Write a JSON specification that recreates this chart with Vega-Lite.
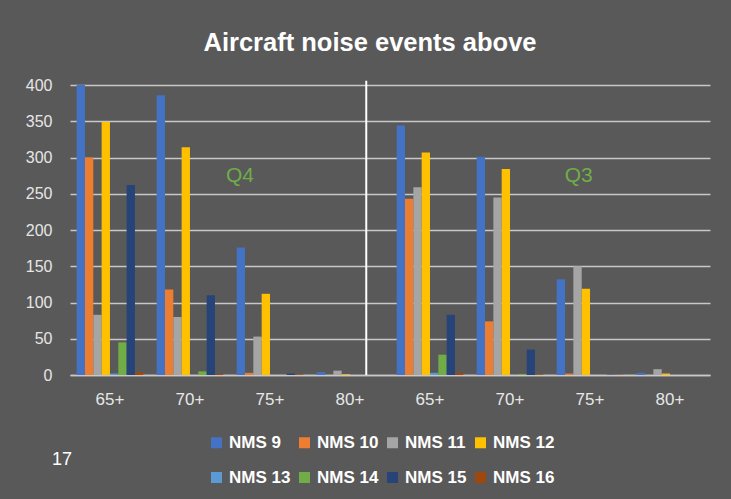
{
  "$schema": "https://vega.github.io/schema/vega-lite/v6.json",
  "autosize": {"type": "none"},
  "width": 640,
  "height": 290,
  "padding": {"left": 70, "top": 85, "right": 21, "bottom": 124},
  "background": "#595959",
  "config": {
    "view": {"stroke": null},
    "font": "Liberation Sans",
    "axisY": {"tickCount": 8, "labelOverlap": false}
  },
  "title": {
    "text": "Aircraft noise events above",
    "color": "#ffffff",
    "fontSize": 25.5,
    "fontWeight": "bold",
    "font": "Liberation Sans",
    "anchor": "middle",
    "dx": -20,
    "offset": 21
  },
  "datasets": {
    "bars": [
      {"cat": "Q4|65+", "s": "NMS 9", "v": 400}, {"cat": "Q4|65+", "s": "NMS 10", "v": 300}, {"cat": "Q4|65+", "s": "NMS 11", "v": 83}, {"cat": "Q4|65+", "s": "NMS 12", "v": 349},
      {"cat": "Q4|65+", "s": "NMS 13", "v": 2}, {"cat": "Q4|65+", "s": "NMS 14", "v": 45}, {"cat": "Q4|65+", "s": "NMS 15", "v": 262}, {"cat": "Q4|65+", "s": "NMS 16", "v": 4},
      {"cat": "Q4|70+", "s": "NMS 9", "v": 386}, {"cat": "Q4|70+", "s": "NMS 10", "v": 118}, {"cat": "Q4|70+", "s": "NMS 11", "v": 80}, {"cat": "Q4|70+", "s": "NMS 12", "v": 314},
      {"cat": "Q4|70+", "s": "NMS 13", "v": 0}, {"cat": "Q4|70+", "s": "NMS 14", "v": 5}, {"cat": "Q4|70+", "s": "NMS 15", "v": 110}, {"cat": "Q4|70+", "s": "NMS 16", "v": 1.5},
      {"cat": "Q4|75+", "s": "NMS 9", "v": 176}, {"cat": "Q4|75+", "s": "NMS 10", "v": 3}, {"cat": "Q4|75+", "s": "NMS 11", "v": 53}, {"cat": "Q4|75+", "s": "NMS 12", "v": 112},
      {"cat": "Q4|75+", "s": "NMS 13", "v": 0}, {"cat": "Q4|75+", "s": "NMS 14", "v": 0}, {"cat": "Q4|75+", "s": "NMS 15", "v": 2}, {"cat": "Q4|75+", "s": "NMS 16", "v": 1},
      {"cat": "Q4|80+", "s": "NMS 9", "v": 4}, {"cat": "Q4|80+", "s": "NMS 10", "v": 0}, {"cat": "Q4|80+", "s": "NMS 11", "v": 6}, {"cat": "Q4|80+", "s": "NMS 12", "v": 1},
      {"cat": "Q4|80+", "s": "NMS 13", "v": 0}, {"cat": "Q4|80+", "s": "NMS 14", "v": 0}, {"cat": "Q4|80+", "s": "NMS 15", "v": 0}, {"cat": "Q4|80+", "s": "NMS 16", "v": 0},
      {"cat": "Q3|65+", "s": "NMS 9", "v": 344}, {"cat": "Q3|65+", "s": "NMS 10", "v": 243}, {"cat": "Q3|65+", "s": "NMS 11", "v": 259}, {"cat": "Q3|65+", "s": "NMS 12", "v": 307},
      {"cat": "Q3|65+", "s": "NMS 13", "v": 3}, {"cat": "Q3|65+", "s": "NMS 14", "v": 28}, {"cat": "Q3|65+", "s": "NMS 15", "v": 83}, {"cat": "Q3|65+", "s": "NMS 16", "v": 3},
      {"cat": "Q3|70+", "s": "NMS 9", "v": 301}, {"cat": "Q3|70+", "s": "NMS 10", "v": 74}, {"cat": "Q3|70+", "s": "NMS 11", "v": 245}, {"cat": "Q3|70+", "s": "NMS 12", "v": 284},
      {"cat": "Q3|70+", "s": "NMS 13", "v": 0}, {"cat": "Q3|70+", "s": "NMS 14", "v": 1.5}, {"cat": "Q3|70+", "s": "NMS 15", "v": 35}, {"cat": "Q3|70+", "s": "NMS 16", "v": 1},
      {"cat": "Q3|75+", "s": "NMS 9", "v": 132}, {"cat": "Q3|75+", "s": "NMS 10", "v": 2}, {"cat": "Q3|75+", "s": "NMS 11", "v": 150}, {"cat": "Q3|75+", "s": "NMS 12", "v": 119},
      {"cat": "Q3|75+", "s": "NMS 13", "v": 0}, {"cat": "Q3|75+", "s": "NMS 14", "v": 0}, {"cat": "Q3|75+", "s": "NMS 15", "v": 0.5}, {"cat": "Q3|75+", "s": "NMS 16", "v": 0.5},
      {"cat": "Q3|80+", "s": "NMS 9", "v": 3}, {"cat": "Q3|80+", "s": "NMS 10", "v": 0}, {"cat": "Q3|80+", "s": "NMS 11", "v": 8}, {"cat": "Q3|80+", "s": "NMS 12", "v": 2},
      {"cat": "Q3|80+", "s": "NMS 13", "v": 0}, {"cat": "Q3|80+", "s": "NMS 14", "v": 0}, {"cat": "Q3|80+", "s": "NMS 15", "v": 0}, {"cat": "Q3|80+", "s": "NMS 16", "v": 0}
    ],
    "sep": [{"cat": "Q4|80+", "y1": 406, "y2": 0}],
    "q4": [{"cat": "Q4|75+", "label": "Q4", "v": 275}],
    "q3": [{"cat": "Q3|75+", "label": "Q3", "v": 275}]
  },
  "encoding": {
    "x": {
      "field": "cat", "type": "nominal", "sort": null,
      "scale": {
        "domain": ["Q4|65+", "Q4|70+", "Q4|75+", "Q4|80+", "Q3|65+", "Q3|70+", "Q3|75+", "Q3|80+"],
        "paddingInner": 0.167, "paddingOuter": 0.083
      },
      "axis": {
        "title": null,
        "labelExpr": "split(datum.label, '|')[1]",
        "labelAngle": 0,
        "labelFontSize": 17,
        "labelColor": "#e6e6e6",
        "labelPadding": 16,
        "ticks": false,
        "domain": true,
        "domainColor": "#c8c8c8",
        "domainWidth": 1.5,
        "grid": false
      }
    },
    "y": {
      "field": "v", "type": "quantitative",
      "scale": {"domain": [0, 400], "nice": false},
      "axis": {
        "title": null,
        "tickMinStep": 50,
        "tickCount": 8,
        "labelOverlap": false,
        "labelFontSize": 16,
        "labelColor": "#e6e6e6",
        "labelPadding": 18,
        "ticks": false,
        "domain": false,
        "grid": true,
        "gridColor": "#c8c8c8",
        "gridWidth": 1.5
      }
    }
  },
  "layer": [
    {
      "data": {"name": "bars"},
      "mark": {"type": "bar", "strokeWidth": 0},
      "encoding": {
        "xOffset": {
          "field": "s", "type": "nominal",
          "sort": ["NMS 9", "NMS 10", "NMS 11", "NMS 12", "NMS 13", "NMS 14", "NMS 15", "NMS 16"],
          "scale": {"paddingInner": 0, "paddingOuter": 0}
        },
        "color": {
          "field": "s", "type": "nominal",
          "sort": ["NMS 9", "NMS 10", "NMS 11", "NMS 12", "NMS 13", "NMS 14", "NMS 15", "NMS 16"],
          "scale": {
            "domain": ["NMS 9", "NMS 10", "NMS 11", "NMS 12", "NMS 13", "NMS 14", "NMS 15", "NMS 16"],
            "range": ["#4472C4", "#ED7D31", "#A5A5A5", "#FFC000", "#5B9BD5", "#70AD47", "#264478", "#9E480E"]
          },
          "legend": {
            "title": "17",
            "titleOrient": "left",
            "titleAngle": 0,
            "titleColor": "#ffffff",
            "titleFontSize": 18,
            "titleFontWeight": "normal",
            "titlePadding": 135,
            "titleBaseline": "middle",
            "titleAnchor": "middle",
            "orient": "none",
            "legendX": -18,
            "legendY": 349,
            "direction": "horizontal",
            "columns": 4,
            "gridAlign": "all",
            "columnPadding": 5,
            "rowPadding": 17,
            "padding": 0,
            "symbolType": "square",
            "symbolSize": 121,
            "symbolStrokeWidth": 0,
            "labelColor": "#ffffff",
            "labelFontSize": 17,
            "labelFontWeight": "bold",
            "labelOffset": 4
          }
        }
      }
    },
    {
      "data": {"name": "sep"},
      "mark": {"type": "rule", "color": "#ffffff", "strokeWidth": 2},
      "encoding": {
        "x": {"field": "cat", "type": "nominal", "bandPosition": 0.744},
        "y": {"field": "y1", "type": "quantitative"},
        "y2": {"field": "y2"}
      }
    },
    {
      "data": {"name": "q4"},
      "mark": {"type": "text", "color": "#70AD47", "fontSize": 21, "align": "center", "baseline": "middle"},
      "encoding": {
        "x": {"field": "cat", "type": "nominal", "bandPosition": 0.05},
        "text": {"field": "label"}
      }
    },
    {
      "data": {"name": "q3"},
      "mark": {"type": "text", "color": "#70AD47", "fontSize": 21, "align": "center", "baseline": "middle"},
      "encoding": {
        "x": {"field": "cat", "type": "nominal", "bandPosition": 0.33},
        "text": {"field": "label"}
      }
    }
  ]
}
